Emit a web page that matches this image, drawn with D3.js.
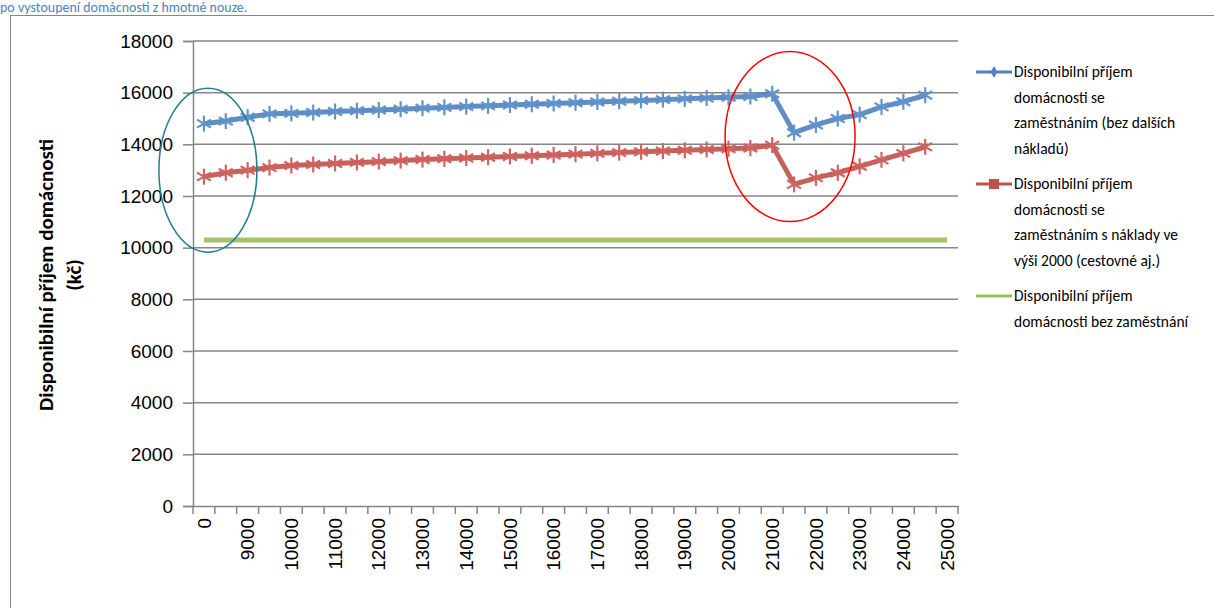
<!DOCTYPE html>
<html lang="en">
<head>
<meta charset="UTF-8">
<title>Disponibilní příjem</title>
<script src="https://d3js.org/d3.v7.min.js"></script>
<style>
  body {margin:0;background:#fff;font-family:Calibri,Carlito,"Liberation Sans",Arial,sans-serif;}
  .tick text {font-size:19px;fill:#000;}
  .legend text {font-size:15.5px;fill:#000;}
</style>
</head>
<body>
<svg id="chart" width="1214" height="608"></svg>
<script>
const categories = ["0","8500","9000","9500","10000","10500","11000","11500","12000","12500","13000","13500","14000","14500","15000","15500","16000","16500","17000","17500","18000","18500","19000","19500","20000","20500","21000","21500","22000","22500","23000","23500","24000","24500","25000"];
const blueValues = [14800,14900,15050,15180,15200,15230,15270,15300,15330,15360,15400,15430,15460,15490,15520,15550,15580,15610,15640,15670,15700,15730,15760,15790,15820,15850,15960,14450,14750,15000,15150,15450,15650,15900];
const redValues = [12750,12900,13000,13100,13180,13220,13260,13300,13330,13370,13410,13440,13470,13500,13530,13560,13590,13620,13650,13680,13710,13740,13770,13800,13830,13860,13970,12450,12700,12900,13150,13400,13650,13900];
const greenValues = categories.map(() => 10300);
const yTicks = [0,2000,4000,6000,8000,10000,12000,14000,16000,18000];
const seriesNames = [
  ["Disponibilní příjem","domácnosti se","zaměstnáním (bez dalších","nákladů)"],
  ["Disponibilní příjem","domácnosti se","zaměstnáním s náklady ve","výši 2000  (cestovné aj.)"],
  ["Disponibilní příjem","domácnosti bez zaměstnání"]
];
const colors = ["#4f81bd","#c0504d","#9bbb59"];

const svg = d3.select("#chart");
// frame and caption above it
svg.append("text").attr("x",0).attr("y",12).attr("fill","#4f81bd").attr("font-size",14)
  .text("po vystoupení domácnosti z hmotné nouze.");
svg.append("rect").attr("x",10.5).attr("y",15.5).attr("width",1210).attr("height",610)
  .attr("fill","none").attr("stroke","#868686");

const pLeft = 193, pRight = 958, pTop = 41, pBottom = 506;
const x = d3.scaleBand().domain(categories).range([pLeft,pRight]);
const y = d3.scaleLinear().domain([0,18000]).range([pBottom,pTop]);
const cx = c => x(c) + x.bandwidth()/2;

// gridlines
svg.append("g").selectAll("line").data(yTicks.slice(1)).enter().append("line")
  .attr("x1",pLeft).attr("x2",pRight).attr("y1",d=>y(d)).attr("y2",d=>y(d))
  .attr("stroke","#868686").attr("stroke-width",1.5);

const yAxis = svg.append("g").attr("transform",`translate(${pLeft},0)`)
  .call(d3.axisLeft(y).tickValues(yTicks).tickSize(10).tickPadding(10).tickFormat(d3.format("d")));
yAxis.selectAll("line,path").attr("stroke","#868686").attr("stroke-width",1.5);

const xAxis = svg.append("g").attr("transform",`translate(0,${pBottom})`)
  .call(d3.axisBottom(x).tickSize(0).tickFormat((d,i)=> i%2===0 ? d : ""));
xAxis.select("path").attr("stroke","#868686").attr("stroke-width",1.5);
xAxis.selectAll(".tick text").attr("transform","rotate(-90)").attr("text-anchor","end")
  .attr("x",-12).attr("y",0).attr("dy","0.35em");
// tick marks at band boundaries
svg.append("g").selectAll("line").data(categories.concat([null])).enter().append("line")
  .attr("x1",(d,i)=>pLeft+i*x.step()).attr("x2",(d,i)=>pLeft+i*x.step())
  .attr("y1",pBottom).attr("y2",pBottom+8).attr("stroke","#868686").attr("stroke-width",1.5);

// y title
svg.append("text").attr("transform","translate(53,275) rotate(-90)").attr("text-anchor","middle")
  .attr("font-size",21).attr("font-weight","bold").text("Disponibilní příjem domácnosti");
svg.append("text").attr("transform","translate(81,275) rotate(-90)").attr("text-anchor","middle")
  .attr("font-size",21).attr("font-weight","bold").text("(kč)");

const line = d3.line().x((d,i)=>cx(categories[i])).y(d=>y(d));
function star(g, px, py, col) {
  const r = 8;
  [[0,-r,0,r],[-r*0.87,-r*0.5,r*0.87,r*0.5],[-r*0.87,r*0.5,r*0.87,-r*0.5]].forEach(s=>{
    g.append("line").attr("x1",px+s[0]).attr("y1",py+s[1]).attr("x2",px+s[2]).attr("y2",py+s[3])
      .attr("stroke",col).attr("stroke-width",2.2);
  });
}
svg.append("path").datum(greenValues).attr("d",line).attr("fill","none")
  .attr("stroke",colors[2]).attr("stroke-width",5).attr("opacity",0.9);
[[blueValues,"#6193cc",colors[0]],[redValues,"#d0635f",colors[1]]].forEach(([vals,mc,lc])=>{
  svg.append("path").datum(vals).attr("d",line).attr("fill","none")
    .attr("stroke",lc).attr("stroke-width",5).attr("opacity",0.9).attr("stroke-linejoin","round");
  const g = svg.append("g");
  vals.forEach((v,i)=>star(g,cx(categories[i]),y(v),mc));
});

// annotation ellipses
svg.append("ellipse").attr("cx",cx(categories[0])+4).attr("cy",y(13000)).attr("rx",49).attr("ry",82)
  .attr("fill","none").attr("stroke","#1f7f94").attr("stroke-width",1.5);
svg.append("ellipse").attr("cx",cx(categories[27])-4).attr("cy",y(14300)).attr("rx",65).attr("ry",85)
  .attr("fill","none").attr("stroke","#ff0000").attr("stroke-width",1.5);

// legend
const legend = svg.append("g").attr("class","legend");
const legendY = [72,184,296];
seriesNames.forEach((lines,k)=>{
  const ly = legendY[k];
  legend.append("line").attr("x1",976).attr("x2",1012).attr("y1",ly).attr("y2",ly)
    .attr("stroke",colors[k]).attr("stroke-width",3);
  if (k===0) legend.append("path").attr("d",d3.symbol(d3.symbolDiamond,40)()).attr("transform",`translate(994,${ly})`).attr("fill",colors[0]);
  if (k===1) legend.append("rect").attr("x",989).attr("y",ly-5).attr("width",10).attr("height",10).attr("fill",colors[1]);
  lines.forEach((t,j)=>legend.append("text").attr("x",1014).attr("y",ly+5+j*25.5).text(t));
});
</script>
</body>
</html>
